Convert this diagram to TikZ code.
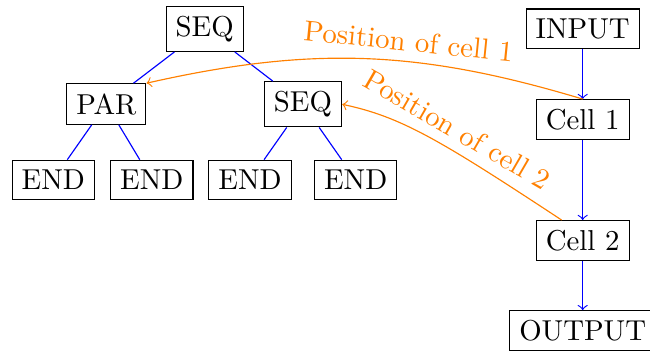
\documentclass[tikz,border=0pt]{standalone}
\tikzset{
  box/.style={draw=black, rectangle, inner sep=0.3333em},
  treeedge/.style={blue},
  flow/.style={blue, ->},
  link/.style={orange, ->},
  linklabel/.style={orange, sloped, above},
}
\begin{document}
\begin{tikzpicture}[x=0.3472pt, y=-0.3472pt]
\clip (0,0) rectangle (650,352);

% syntax tree
\node[box] (root) at (204.7,28.8) {SEQ};
\node[box] (par)  at (106.3,104)  {PAR};
\node[box] (seq)  at (303,104.3)  {SEQ};
\node[box] (e1)   at (53.3,179.7) {END};
\node[box] (e2)   at (151.8,179.7) {END};
\node[box] (e3)   at (250,179.7)  {END};
\node[box] (e4)   at (355.7,179.7) {END};

\draw[treeedge] (root) -- (par);
\draw[treeedge] (root) -- (seq);
\draw[treeedge] (par) -- (e1);
\draw[treeedge] (par) -- (e2);
\draw[treeedge] (seq) -- (e3);
\draw[treeedge] (seq) -- (e4);

% cell pipeline
\node[box] (in)  at (582.7,28.8)  {INPUT};
\node[box] (c1)  at (582.7,119.7) {Cell 1};
\node[box] (c2)  at (582.7,240.7) {Cell 2};
\node[box] (out) at (582.7,330.8) {OUTPUT};

\draw[flow] (in) -- (c1);
\draw[flow] (c1) -- (c2);
\draw[flow] (c2) -- (out);

% positions of the cells in the tree
\draw[link] (c1.north) .. controls (419.5,50.1) and (313,45.6) .. (par.north east)
  node[linklabel, pos=0.4] {Position of cell 1};
\draw[link] ([xshift=-7.3pt]c2.north) .. controls (440,140) and (401.4,116.8) .. (seq.east)
  node[linklabel, pos=0.41] {Position of cell 2};
\end{tikzpicture}
\end{document}
